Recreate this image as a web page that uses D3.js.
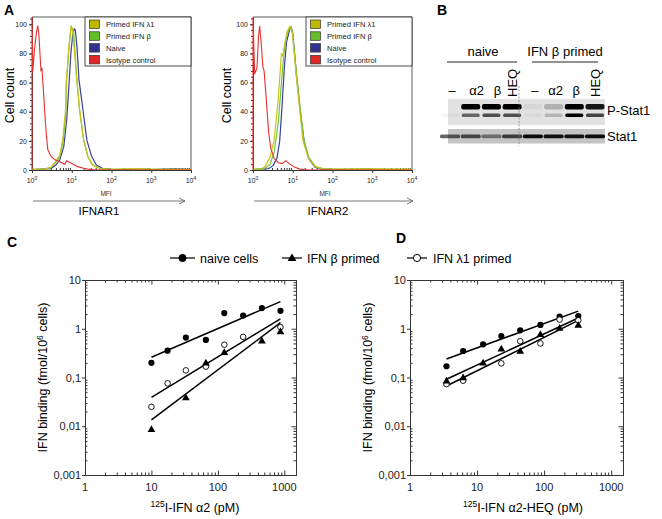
<!DOCTYPE html>
<html>
<head>
<meta charset="utf-8">
<script src="https://cdn.jsdelivr.net/npm/d3@7"></script>
<style>
  body { margin: 0; background: #fff; }
  svg { display: block; font-family: Arial, "Liberation Sans", Helvetica, sans-serif; }
</style>
</head>
<body>
<script>
// ---------- panel A : flow cytometry histograms (MFI, cell count) ----------
const histNames = ["Primed IFN λ1", "Primed IFN β", "Naive", "Isotype control"];
const histYTicks = [0, 20, 40, 60, 80, 100];
const histXTicks = [1, 10, 100, 1000, 10000];

const ifnar1Lambda = [[1,0.5],[2,0.6],[3,2],[3.7,5],[5,10],[6,22],[7,42],[7.3,62],[7.6,66],[8.3,82],[9,92],[9.6,99],[10.5,96],[12,78],[13,66],[15.5,43],[19.5,22],[25,9.5],[33,3.5],[50,1],[100,0.5],[500,0.9],[1000,0.5],[5000,0.4],[10000,0.3]];
const ifnar1Beta = [[1,0.5],[2,0.5],[3,1.5],[3.76,4.6],[5,9],[6.1,20.5],[7.1,39],[7.3,60],[7.5,63],[8.2,78],[8.9,89],[9.8,98.6],[11.2,94],[12.5,75],[13.1,65],[15.8,41],[20,20.5],[25.7,9],[34,3.4],[50,1.1],[80,0.5],[300,0.6],[1000,0.4],[3000,0.5],[10000,0.3]];
const ifnar1Naive = [[1,0.3],[3,1],[4,3.5],[5,7],[6.3,16],[7.5,35],[8.5,58],[9.5,80],[10.5,92],[11.5,97],[12.3,96],[13.5,85],[15.2,62],[19.2,41],[24,20.5],[31,10],[41.5,3.4],[60,1],[100,0.3],[1000,0.3],[4000,0.8],[10000,0.3]];
const ifnar1Isotype = [[1,0],[1,105],[1.05,68],[1.15,82],[1.3,95],[1.4,99],[1.5,92],[1.6,78],[1.68,68],[1.78,70],[1.9,58],[2.1,39],[2.3,24],[2.5,14],[2.8,11],[3.1,9],[3.8,7],[5,5.7],[6.7,3.9],[7.4,6.4],[8.5,5.5],[9.8,4.6],[14,2.3],[20,1.2],[25,0.6],[40,0],[10000,0]];

const ifnar2Lambda = [[1,0.5],[1.6,0.5],[2,2.3],[2.7,9],[3.4,20.5],[4.3,48],[5.2,80],[5.7,78],[6,84],[7.2,95],[8.5,98.6],[9.8,94],[12.3,64],[15,41],[18,20.5],[24,9],[36,2.3],[60,0.8],[200,0.6],[1000,0.8],[10000,0.4]];
const ifnar2Beta = [[1,0.5],[2,1],[2.7,4],[3.4,12],[4.3,32],[5.2,60],[6,80],[7,92],[8.2,97],[9,98.6],[10,93],[12.5,66],[15.5,42],[19,21],[25,9],[37,2.3],[60,0.8],[10000,0.4]];
const ifnar2Naive = [[1,0.3],[2.5,1],[3.2,3],[4,8],[4.7,20],[5.5,48],[6.2,72],[7,88],[8.3,96],[9.1,98],[10,94],[12.5,64],[15.5,40],[19.5,19],[25,8],[36,2],[60,0.5],[10000,0.3]];
const ifnar2Isotype = [[1,0],[1,105],[1.1,66],[1.26,70],[1.38,92],[1.47,98.6],[1.6,88],[1.77,71],[1.9,68],[2.14,50],[2.45,27],[2.8,15],[3.4,8],[4.3,5],[5.5,4.4],[6.7,6.4],[8.1,4.4],[10.6,2.3],[15,0.6],[25,0],[10000,0]];

// ---------- panel B : western blot ----------
const lanes = ["–", "α2", "β", "HEQ", "–", "α2", "β", "HEQ"];
const pStat1Upper = [0, 1, 1, 1, 0.05, 0.22, 1, 0.9];
const pStat1Lower = [0.04, 0.55, 0.65, 0.65, 0.04, 0.2, 1, 0.7];
const stat1Band = [0.6, 0.65, 0.45, 0.7, 0.95, 0.92, 0.9, 0.95];

// ---------- panels C and D : binding (pM vs fmol/10^6 cells) ----------
const bindXTicks = [1, 10, 100, 1000];
const bindYTicks = [0.001, 0.01, 0.1, 1, 10];
const bindNames = ["naive cells", "IFN β primed", "IFN λ1 primed"];

const cNaiveX = [10, 17.5, 33, 66, 125, 240, 460, 875];
const cNaiveY = [0.20, 0.355, 0.66, 0.59, 2.1, 1.87, 2.65, 2.33];
const cBetaX = [10, 33, 66, 125, 460, 875];
const cBetaY = [0.0087, 0.039, 0.2, 0.33, 0.57, 0.88];
const cLambdaX = [10, 17.5, 33, 66, 125, 240, 875];
const cLambdaY = [0.025, 0.076, 0.14, 0.167, 0.47, 0.68, 1.08];
const cFitNaive = [[10, 0.26], [875, 3.6]];
const cFitBeta = [[10, 0.0135], [875, 1.33]];
const cFitLambda = [[10, 0.039], [875, 1.6]];

const dNaiveX = [3.5, 6.2, 12.3, 23, 44, 88, 170, 323];
const dNaiveY = [0.17, 0.35, 0.48, 0.71, 0.93, 1.2, 1.77, 1.82];
const dBetaX = [3.5, 6.2, 12.3, 23, 44, 88, 170, 323];
const dBetaY = [0.086, 0.1, 0.2, 0.39, 0.35, 0.77, 1.04, 1.2];
const dLambdaX = [3.5, 6.2, 23, 44, 88, 170, 323];
const dLambdaY = [0.073, 0.086, 0.195, 0.556, 0.5, 1.54, 1.49];
const dFitNaive = [[3.5, 0.24], [323, 2.3]];
const dFitBeta = [[3.5, 0.092], [323, 1.66]];
const dFitLambda = [[3.5, 0.067], [323, 1.49]];

const histColors = ["#c9c41a", "#72c43a", "#3b3f9c", "#e8302e"];
const swatchColors = ["#bdb800", "#66bf2a", "#33338f", "#e02626"];
const axisColor = "#333";

const svg = d3.select("body").append("svg").attr("width", 662).attr("height", 519);
svg.append("rect").attr("width", 662).attr("height", 519).attr("fill", "#fff");
const defs = svg.append("defs");
defs.append("filter").attr("id", "blur").append("feGaussianBlur").attr("stdDeviation", 0.6);

function panelLabel(t, x, y) {
  svg.append("text").attr("x", x).attr("y", y).attr("font-size", 14).attr("font-weight", "bold").text(t);
}

function styleAxis(g, fs) {
  g.selectAll(".domain").attr("stroke", axisColor);
  g.selectAll(".tick line").attr("stroke", axisColor);
  g.selectAll(".tick text").attr("font-size", fs).attr("fill", "#222").attr("font-family", null);
}

// ---------- histogram panel ----------
function drawHist(p) {
  const x = d3.scaleLog().domain([1, 1e4]).range([p.left, p.right]);
  const y = d3.scaleLinear().domain([0, 105]).range([p.bottom, p.top]);
  const g = svg.append("g");

  const yMinor = g.append("g").attr("transform", `translate(${p.left},0)`)
    .call(d3.axisLeft(y).tickValues(d3.range(0, 105, 4)).tickSize(2).tickSizeOuter(0).tickFormat(""));
  styleAxis(yMinor, 7);
  const yMajor = g.append("g").attr("transform", `translate(${p.left},0)`)
    .call(d3.axisLeft(y).tickValues(histYTicks).tickSize(3).tickSizeOuter(0).tickPadding(2).tickFormat(d3.format("d")));
  styleAxis(yMajor, 7);

  const minor = x.ticks().filter(d => !histXTicks.includes(d));
  const xMinor = g.append("g").attr("transform", `translate(0,${p.bottom})`)
    .call(d3.axisBottom(x).tickValues(minor).tickSize(-2).tickSizeOuter(0).tickFormat(""));
  styleAxis(xMinor, 7);
  const xMajor = g.append("g").attr("transform", `translate(0,${p.bottom})`)
    .call(d3.axisBottom(x).tickValues(histXTicks).tickSize(3).tickSizeOuter(0).tickFormat(""));
  styleAxis(xMajor, 7);

  const lab = g.selectAll(".xl").data(histXTicks).enter().append("text")
    .attr("x", d => x(d)).attr("y", p.bottom + 13).attr("text-anchor", "middle")
    .attr("font-size", 7).attr("fill", "#222");
  lab.append("tspan").text("10");
  lab.append("tspan").attr("dy", -3.5).attr("font-size", 5).text(d => Math.round(Math.log10(d)));

  // frame top / right
  g.append("path").attr("d", `M${p.left},${p.top}H${p.right}V${p.bottom}`)
    .attr("fill", "none").attr("stroke", axisColor).attr("stroke-width", 0.8);

  svg.append("clipPath").attr("id", "clip-" + p.name).append("rect")
    .attr("x", p.left - 1).attr("y", p.top).attr("width", p.right - p.left + 1).attr("height", p.bottom - p.top);

  const line = d3.line().x(d => x(d[0])).y(d => y(d[1]));
  const order = [2, 1, 0, 3];
  order.forEach(i => {
    g.append("path").datum(p.series[i]).attr("d", line)
      .attr("clip-path", `url(#clip-${p.name})`)
      .attr("fill", "none").attr("stroke", histColors[i])
      .attr("stroke-width", i === 3 ? 1.1 : 1.2).attr("stroke-linejoin", "round");
  });

  // legend
  const lg = g.append("g");
  lg.append("rect").attr("x", p.legX).attr("y", p.top).attr("width", p.right - p.legX).attr("height", 49)
    .attr("fill", "#fff").attr("stroke", "#222").attr("stroke-width", 0.8);
  const item = lg.selectAll(".li").data(histNames).enter().append("g")
    .attr("transform", (d, i) => `translate(${p.legX},${p.top + 3 + i * 11.8})`);
  item.append("rect").attr("x", 4.5).attr("y", 0).attr("width", 10).attr("height", 8.5)
    .attr("fill", (d, i) => swatchColors[i]).attr("stroke", "#333").attr("stroke-width", 0.7);
  item.append("text").attr("x", 21).attr("y", 7.3).attr("font-size", 7.6).attr("fill", "#222").text(d => d);

  // titles
  svg.append("text").attr("transform", `translate(${p.yLabX},${(p.top + p.bottom) / 2 + 2}) rotate(-90)`)
    .attr("text-anchor", "middle").attr("font-size", 12.5).text("Cell count");
  svg.append("text").attr("x", p.mfiX).attr("y", 195.5).attr("text-anchor", "middle")
    .attr("font-size", 6.5).attr("fill", "#333").text("MFI");
  const ay = 201;
  svg.append("path").attr("d", `M${p.left + 1},${ay}H${p.arrowEnd}M${p.arrowEnd - 6},${ay - 3}L${p.arrowEnd},${ay}L${p.arrowEnd - 6},${ay + 3}`)
    .attr("fill", "none").attr("stroke", "#555").attr("stroke-width", 0.8);
  svg.append("text").attr("x", p.titleX).attr("y", 215).attr("text-anchor", "middle")
    .attr("font-size", 11.5).text(p.title);
}

drawHist({ name: "a1", left: 32, right: 191, top: 17, bottom: 170, legX: 85, yLabX: 14,
  mfiX: 106, arrowEnd: 185, titleX: 99, title: "IFNAR1",
  series: [ifnar1Lambda, ifnar1Beta, ifnar1Naive, ifnar1Isotype] });
drawHist({ name: "a2", left: 253, right: 412, top: 17, bottom: 170, legX: 306, yLabX: 231,
  mfiX: 325, arrowEnd: 413, titleX: 328, title: "IFNAR2",
  series: [ifnar2Lambda, ifnar2Beta, ifnar2Naive, ifnar2Isotype] });

// ---------- western blot ----------
function drawBlot() {
  const lx = d3.scalePoint().domain(d3.range(lanes.length)).range([450, 595]);
  const g = svg.append("g");
  g.append("text").attr("x", 483).attr("y", 56).attr("text-anchor", "middle").attr("font-size", 13).text("naive");
  g.append("text").attr("x", 565).attr("y", 56).attr("text-anchor", "middle").attr("font-size", 13).text("IFN β primed");
  g.append("line").attr("x1", 447).attr("x2", 517).attr("y1", 62).attr("y2", 62).attr("stroke", "#222");
  g.append("line").attr("x1", 532).attr("x2", 598).attr("y1", 62).attr("y2", 62).attr("stroke", "#222");

  lanes.forEach((t, i) => {
    const cx = lx(i);
    if (t === "HEQ") {
      g.append("text").attr("transform", `translate(${cx + 4.5},${97}) rotate(-90)`)
        .attr("font-size", 13).text(t);
    } else {
      g.append("text").attr("x", cx + (i < 4 && i > 0 ? 6 : 2)).attr("y", 95).attr("text-anchor", "middle")
        .attr("font-size", 13).text(t);
    }
  });

  g.append("rect").attr("x", 448).attr("y", 99).attr("width", 157).attr("height", 26).attr("fill", "#e2e2e2");
  g.append("rect").attr("x", 448).attr("y", 129).attr("width", 157).attr("height", 14.5).attr("fill", "#c4c4c4");

  const bands = g.append("g").attr("filter", "url(#blur)");
  bands.selectAll(".up").data(pStat1Upper).enter().append("rect")
    .attr("x", (d, i) => lx(i) - 9.5).attr("y", 104).attr("width", 19).attr("height", 5.5).attr("rx", 2)
    .attr("fill", "#000").attr("opacity", d => d);
  bands.selectAll(".lo").data(pStat1Lower).enter().append("rect")
    .attr("x", (d, i) => lx(i) - 9).attr("y", 113.5).attr("width", 18).attr("height", 3.4).attr("rx", 1.5)
    .attr("fill", "#000").attr("opacity", d => d);
  bands.selectAll(".st").data(stat1Band).enter().append("rect")
    .attr("x", (d, i) => lx(i) - 10).attr("y", 134.5).attr("width", 20).attr("height", 3.8).attr("rx", 1.5)
    .attr("fill", "#000").attr("opacity", d => d);

  g.append("line").attr("x1", 519).attr("x2", 519).attr("y1", 86).attr("y2", 146)
    .attr("stroke", "#777").attr("stroke-width", 0.7).attr("stroke-dasharray", "2,1.5");

  g.append("text").attr("x", 607).attr("y", 115).attr("font-size", 13).text("P-Stat1");
  g.append("text").attr("x", 607).attr("y", 141).attr("font-size", 13).text("Stat1");
}
drawBlot();

// ---------- binding panels ----------
const triangle = d3.symbol().type(d3.symbolTriangle).size(26);

function drawMarkers(g, xs, ys, kind, x, y) {
  const pts = xs.map((v, i) => [v, ys[i]]);
  if (kind === 1) {
    g.selectAll(null).data(pts).enter().append("path").attr("d", triangle)
      .attr("transform", d => `translate(${x(d[0])},${y(d[1]) + 0.5})`).attr("fill", "#000");
  } else {
    g.selectAll(null).data(pts).enter().append("circle")
      .attr("cx", d => x(d[0])).attr("cy", d => y(d[1])).attr("r", kind === 0 ? 3.1 : 2.8)
      .attr("fill", kind === 0 ? "#000" : "#fff").attr("stroke", "#000").attr("stroke-width", kind === 0 ? 0 : 0.9);
  }
}

function drawBinding(p) {
  const x = d3.scaleLog().domain([1, 1500]).range([p.left, p.right]);
  const y = d3.scaleLog().domain([0.001, 10]).range([p.bottom, p.top]);
  const g = svg.append("g");
  const xMin = x.ticks().filter(d => !bindXTicks.includes(d));
  const yMin = y.ticks().filter(d => !bindYTicks.some(t => Math.abs(t - d) < 1e-9));

  const ax = [
    [d3.axisBottom(x).tickValues(xMin).tickSize(-2.5), `translate(0,${p.bottom})`],
    [d3.axisBottom(x).tickValues(bindXTicks).tickSize(-4.5), `translate(0,${p.bottom})`],
    [d3.axisTop(x).tickValues(xMin).tickSize(-2.5), `translate(0,${p.top})`],
    [d3.axisTop(x).tickValues(bindXTicks).tickSize(-4.5), `translate(0,${p.top})`],
    [d3.axisLeft(y).tickValues(yMin).tickSize(-2.5), `translate(${p.left},0)`],
    [d3.axisLeft(y).tickValues(bindYTicks).tickSize(3), `translate(${p.left},0)`],
    [d3.axisRight(y).tickValues(yMin).tickSize(-2.5), `translate(${p.right},0)`],
    [d3.axisRight(y).tickValues(bindYTicks).tickSize(-4.5), `translate(${p.right},0)`]
  ];
  ax.forEach(a => {
    const ag = g.append("g").attr("transform", a[1]).call(a[0].tickSizeOuter(0).tickFormat(""));
    styleAxis(ag, 10);
  });

  g.selectAll(".xl").data(bindXTicks).enter().append("text")
    .attr("x", d => x(d)).attr("y", p.bottom + 16).attr("text-anchor", "middle")
    .attr("font-size", 11).attr("fill", "#222").text(d => d);
  g.selectAll(".yl").data(bindYTicks).enter().append("text")
    .attr("x", p.left - 4).attr("y", d => y(d) + 4).attr("text-anchor", "end")
    .attr("font-size", 11).attr("fill", "#222").text(d => String(d).replace(".", ","));

  const line = d3.line().x(d => x(d[0])).y(d => y(d[1]));
  p.fits.forEach(f => {
    g.append("path").datum(f).attr("d", line).attr("fill", "none").attr("stroke", "#000").attr("stroke-width", 1.5);
  });
  drawMarkers(g, p.naive[0], p.naive[1], 0, x, y);
  drawMarkers(g, p.lambda[0], p.lambda[1], 2, x, y);
  drawMarkers(g, p.beta[0], p.beta[1], 1, x, y);

  const yt = svg.append("text").attr("transform", `translate(${p.yTitleX},${(p.top + p.bottom) / 2}) rotate(-90)`)
    .attr("text-anchor", "middle").attr("font-size", 12.5);
  yt.append("tspan").text("IFN binding (fmol/10");
  yt.append("tspan").attr("dy", -4.5).attr("font-size", 8.5).text("6");
  yt.append("tspan").attr("dy", 4.5).text(" cells)");

  const xt = svg.append("text").attr("x", p.xTitleX).attr("y", 512).attr("text-anchor", "middle").attr("font-size", 12.5);
  xt.append("tspan").attr("dy", -5).attr("font-size", 8.5).text("125");
  xt.append("tspan").attr("dy", 5).text(p.xTitle);
}

drawBinding({ left: 85, right: 296, top: 280, bottom: 475, yTitleX: 47, xTitleX: 195,
  xTitle: "I-IFN α2 (pM)",
  naive: [cNaiveX, cNaiveY], beta: [cBetaX, cBetaY], lambda: [cLambdaX, cLambdaY],
  fits: [cFitNaive, cFitBeta, cFitLambda] });
drawBinding({ left: 410, right: 623, top: 280, bottom: 475, yTitleX: 372, xTitleX: 523,
  xTitle: "I-IFN α2-HEQ (pM)",
  naive: [dNaiveX, dNaiveY], beta: [dBetaX, dBetaY], lambda: [dLambdaX, dLambdaY],
  fits: [dFitNaive, dFitBeta, dFitLambda] });

// legend for C and D: [line start, line end, text x]
const legPos = [[170, 195, 200], [282, 302, 307], [407, 427, 433]];
const lgd = svg.append("g");
bindNames.forEach((n, i) => {
  const [l0, l1, tx] = legPos[i];
  const ly = 258;
  lgd.append("line").attr("x1", l0).attr("x2", l1).attr("y1", ly).attr("y2", ly)
    .attr("stroke", "#000").attr("stroke-width", 1.2);
  const mx = (l0 + l1) / 2;
  if (i === 1) {
    lgd.append("path").attr("d", d3.symbol().type(d3.symbolTriangle).size(34))
      .attr("transform", `translate(${mx},${ly + 0.5})`).attr("fill", "#000");
  } else {
    lgd.append("circle").attr("cx", mx).attr("cy", ly).attr("r", 3.6)
      .attr("fill", i === 0 ? "#000" : "#fff").attr("stroke", "#000").attr("stroke-width", 1);
  }
  lgd.append("text").attr("x", tx).attr("y", ly + 4.5).attr("font-size", 12.5).text(n);
});

panelLabel("A", 4, 15);
panelLabel("B", 437, 15);
panelLabel("C", 7, 247);
panelLabel("D", 396, 243);
</script>
</body>
</html>
